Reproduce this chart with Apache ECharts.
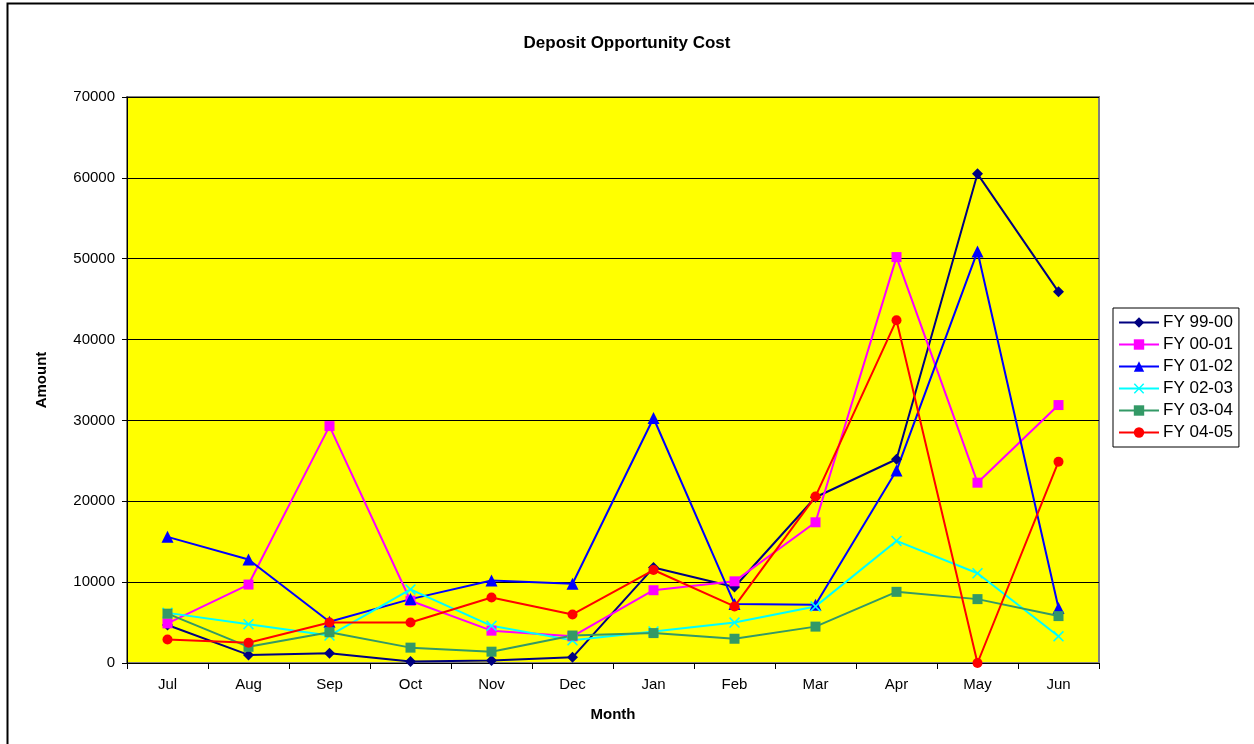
<!DOCTYPE html>
<html>
<head>
<meta charset="utf-8">
<title>Deposit Opportunity Cost</title>
<script src="https://cdn.jsdelivr.net/npm/echarts@6/dist/echarts.min.js"></script>
<style>
  html, body { margin: 0; padding: 0; background: #ffffff; }
  #chart { width: 1254px; height: 744px; }
</style>
</head>
<body>
<div id="chart"></div>
<script>
// Months of the fiscal year
const months = ['Jul', 'Aug', 'Sep', 'Oct', 'Nov', 'Dec', 'Jan', 'Feb', 'Mar', 'Apr', 'May', 'Jun'];

// Monthly deposit opportunity cost per fiscal year
const fy9900 = [4700, 1000, 1200, 200, 300, 700, 11800, 9400, 20500, 25200, 60500, 45900];
const fy0001 = [4900, 9700, 29300, 7700, 4000, 3300, 9000, 10100, 17400, 50200, 22300, 31900];
const fy0102 = [15600, 12800, 5100, 7900, 10200, 9800, 30300, 7300, 7200, 23800, 50900, 6800];
const fy0203 = [6200, 4800, 3400, 9100, 4600, 2800, 3900, 5000, 7000, 15100, 11100, 3300];
const fy0304 = [6100, 2000, 3800, 1900, 1400, 3400, 3700, 3000, 4500, 8800, 7900, 5800];
const fy0405 = [2900, 2500, 5000, 5000, 8100, 6000, 11500, 7000, 20600, 42400, 0, 24900];

// Value axis ticks
const yTicks = [0, 10000, 20000, 30000, 40000, 50000, 60000, 70000];

const crossPath = 'path://M0,1L1,0L5,4L9,0L10,1L6,5L10,9L9,10L5,6L1,10L0,9L4,5Z';

function makeSeries(name, data, color, symbol, size) {
  return {
    name: name,
    type: 'line',
    data: data,
    symbol: symbol,
    symbolSize: size,
    showAllSymbol: true,
    lineStyle: { color: color, width: 2 },
    itemStyle: { color: color },
    emphasis: { disabled: true },
    animation: false
  };
}

const chart = echarts.init(document.getElementById('chart'), null, { renderer: 'canvas' });

chart.setOption({
  backgroundColor: '#ffffff',
  animation: false,
  textStyle: { fontFamily: '"Liberation Sans", Arial, sans-serif' },
  title: {
    text: 'Deposit Opportunity Cost',
    left: 'center',
    top: 30,
    textStyle: { fontSize: 17, fontWeight: 'bold', color: '#000', fontFamily: '"Liberation Sans", Arial, sans-serif' }
  },
  graphic: [
    {
      type: 'rect',
      left: 5, top: 1,
      shape: { width: 1300, height: 800 },
      style: { fill: 'none', stroke: '#000', lineWidth: 2 },
      silent: true
    }
  ],
  legend: {
    orient: 'vertical',
    left: 1113,
    top: 308,
    padding: [6, 6, 6, 5],
    itemGap: 5,
    itemWidth: 40,
    itemHeight: 13,
    borderColor: '#000',
    borderWidth: 1,
    backgroundColor: '#fff',
    textStyle: { fontSize: 17, color: '#000', fontFamily: '"Liberation Sans", Arial, sans-serif', padding: [0, 0, 0, -1] },
    data: ['FY 99-00', 'FY 00-01', 'FY 01-02', 'FY 02-03', 'FY 03-04', 'FY 04-05']
  },
  grid: {
    left: 127,
    right: 155,
    top: 97,
    bottom: 81,
    show: true,
    backgroundColor: '#ffff00',
    borderColor: '#808080',
    borderWidth: 2
  },
  xAxis: {
    type: 'category',
    data: months,
    boundaryGap: true,
    name: 'Month',
    nameLocation: 'middle',
    nameGap: 44,
    nameTextStyle: { fontSize: 15, fontWeight: 'bold', color: '#000' },
    axisLine: { lineStyle: { color: '#000', width: 1 } },
    axisTick: { show: true, alignWithLabel: false, length: 6, lineStyle: { color: '#000' } },
    axisLabel: { fontSize: 15, color: '#000', margin: 14 },
    splitLine: { show: false }
  },
  yAxis: {
    type: 'value',
    min: 0,
    max: 70000,
    interval: 10000,
    name: 'Amount',
    nameLocation: 'middle',
    nameGap: 78,
    nameRotate: 90,
    nameTextStyle: { fontSize: 15, fontWeight: 'bold', color: '#000' },
    axisLine: { show: true, lineStyle: { color: '#000', width: 1 } },
    axisTick: { show: true, length: 5, lineStyle: { color: '#000' } },
    axisLabel: {
      fontSize: 15, color: '#000', margin: 12,
      formatter: function (v) { return yTicks.indexOf(v) >= 0 ? String(v) : ''; }
    },
    splitLine: { show: true, lineStyle: { color: '#000', width: 1 } }
  },
  series: [
    makeSeries('FY 99-00', fy9900, '#000080', 'diamond', 11),
    makeSeries('FY 00-01', fy0001, '#ff00ff', 'rect', 10),
    makeSeries('FY 01-02', fy0102, '#0000ff', 'triangle', 12),
    makeSeries('FY 02-03', fy0203, '#00ffff', crossPath, 11),
    makeSeries('FY 03-04', fy0304, '#339966', 'rect', 10),
    makeSeries('FY 04-05', fy0405, '#ff0000', 'circle', 10)
  ]
});
</script>
</body>
</html>
